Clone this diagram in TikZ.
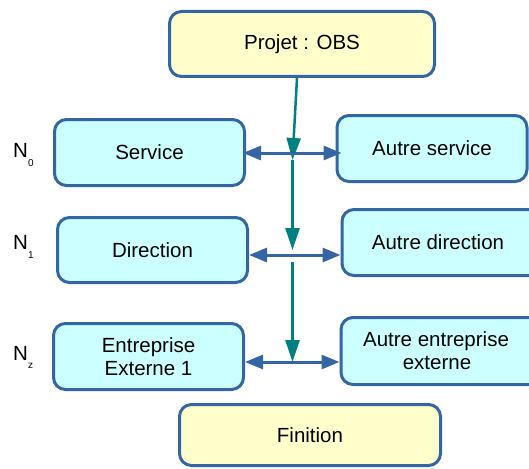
\documentclass[tikz,border=0pt]{standalone}
\usepackage{fontspec}
\setmainfont{Liberation Sans}
\usetikzlibrary{arrows.meta}
\definecolor{boxblue}{HTML}{3465A4}
\definecolor{cyanfill}{HTML}{CCFFFF}
\definecolor{yellowfill}{HTML}{FFFFCC}
\definecolor{flowteal}{HTML}{008080}
\begin{document}
\begin{tikzpicture}[x=1pt,y=-1pt,
        every node/.style={font=\fontsize{20.5}{23}\selectfont},
        box/.style={draw=boxblue, line width=3pt, rounded corners=12pt, align=center, inner sep=0pt, minimum width=190pt, minimum height=66pt},
        entity/.style={box, fill=cyanfill},
        stage/.style={box, fill=yellowfill, minimum width=265pt, minimum height=65pt},
        flow/.style={draw=flowteal, line width=2.5pt, -{Triangle[length=22pt,width=14pt]}},
        link/.style={draw=boxblue, line width=3pt, {Triangle[length=18pt,width=14pt]}-{Triangle[length=18pt,width=14pt]}},
        level/.style={anchor=base west, inner sep=0pt}]
    \useasboundingbox (0,0) rectangle (529,468);
    % boites
    \node[stage] (projet) at (302,44) {Projet : OBS};
    \node[entity] (service) at (149.5,152.5) {Service};
    \node[entity] (autreserv) at (432,148.5) {Autre service};
    \node[entity, minimum height=65pt] (direction) at (152.5,250) {Direction};
    \node[entity, minimum width=206pt] (autredir) at (445,242.5) {Autre direction\hspace*{14pt}};
    \node[entity] (entreprise) at (148.5,356.5) {Entreprise\\Externe 1};
    \node[entity, minimum width=206pt, minimum height=67pt] (autreent) at (444,351) {Autre entreprise\hspace*{16pt}\\externe\hspace*{14pt}};
    \node[stage, minimum width=261pt, minimum height=61pt] (finition) at (310,435) {Finition};
    % niveaux
    \node[level] (n0) at (13,157) {N\raisebox{-9pt}{\fontsize{10}{10}\selectfont 0}};
    \node[level] (n1) at (13,249) {N\raisebox{-9pt}{\fontsize{10}{10}\selectfont 1}};
    \node[level] (nz) at (13,360) {N\raisebox{-8pt}{\fontsize{10}{10}\selectfont z}};
    % croisements
    \coordinate (c0) at (292.5,153);
    \coordinate (c1) at (292.5,255);
    \coordinate (c2) at (292.5,362);
    \coordinate (t0) at (292.5,160);
    \coordinate (t1) at (292.5,250);
    \coordinate (t1b) at (292.5,262);
    \draw[flow] ([xshift=-5pt]projet.south) -- (t0);
    \draw[flow] (t0) -- (t1);
    \draw[flow] (t1b) -- (c2);
    \draw[link, shorten <=-3pt, shorten >=-6pt] (service.east |- c0) -- (autreserv.west |- c0);
    \draw[link] (direction.east |- c1) -- (autredir.west |- c1);
    \draw[link] (entreprise.east |- c2) -- (autreent.west |- c2);
\end{tikzpicture}
\end{document}
